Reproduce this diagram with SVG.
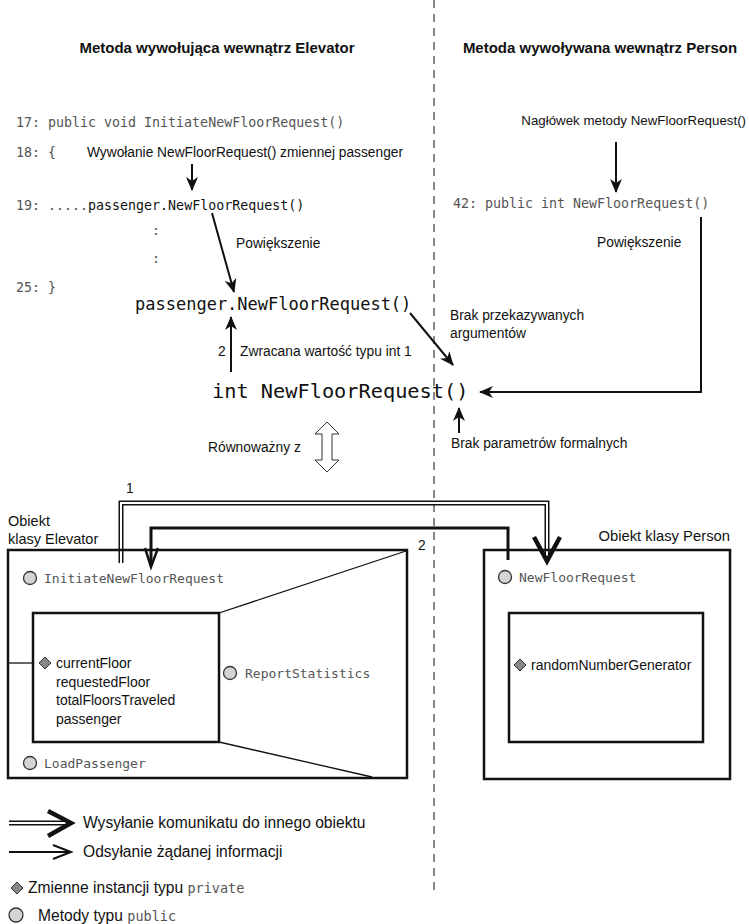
<svg xmlns="http://www.w3.org/2000/svg" width="749" height="924" viewBox="0 0 749 924">
<style>
.s{font-family:"Liberation Sans",Arial,sans-serif;font-size:13.8px;fill:#111}
.h{font-family:"Liberation Sans",Arial,sans-serif;font-size:15px;font-weight:bold;fill:#111}
.m{font-family:"DejaVu Sans Mono","Liberation Mono",monospace;font-size:13px;fill:#555}
.mb{fill:#111}
.ln{stroke:#111;stroke-width:2;fill:none}
.box{stroke:#111;stroke-width:2.5;fill:none}
.thin{stroke:#111;stroke-width:1.3;fill:none}
.circ{fill:#d4d4d4;stroke:#333;stroke-width:1.3}
.dia{fill:#888;stroke:#333;stroke-width:1}
</style>
<defs>
<marker id="ah" markerUnits="userSpaceOnUse" markerWidth="14" markerHeight="14" refX="13" refY="7" orient="auto">
<path d="M0,1 L14,7 L0,13 L4,7 z" fill="#111"/>
</marker>
</defs>
<rect width="749" height="924" fill="#fff"/>
<line x1="434" y1="0" x2="434" y2="890" stroke="#888" stroke-width="2" stroke-dasharray="8,6"/>
<g id="headings">
<text class="h" x="217" y="53" text-anchor="middle">Metoda wywołująca wewnątrz Elevator</text>
<text class="h" x="600" y="53" text-anchor="middle">Metoda wywoływana wewnątrz Person</text>
</g>
<g id="code-elevator">
<text class="m" x="16" y="127" style="font-size:13.3px">17: public void InitiateNewFloorRequest()</text>
<text class="m" x="16" y="157" style="font-size:13.3px">18: {</text>
<text class="m" x="16" y="210" style="font-size:13.3px">19: .....<tspan class="mb">passenger.NewFloorRequest()</tspan></text>
<text class="m" x="152" y="235" style="font-size:13.3px">:</text>
<text class="m" x="152" y="263" style="font-size:13.3px">:</text>
<text class="m" x="16" y="292" style="font-size:13.3px">25: }</text>
<text class="s" x="87" y="157" style="font-size:14px" textLength="316" lengthAdjust="spacingAndGlyphs">Wywołanie NewFloorRequest() zmiennej passenger</text>
<text class="s" x="236" y="248">Powiększenie</text>
</g>
<g id="code-person">
<text class="s" x="746" y="125" text-anchor="end" style="font-size:13.3px">Nagłówek metody NewFloorRequest()</text>
<text class="m" x="453" y="208" style="font-size:13.3px">42: public int NewFloorRequest()</text>
<text class="s" x="597" y="247">Powiększenie</text>
</g>
<g id="call">
<text class="m mb" x="135" y="310" style="font-size:17px">passenger.NewFloorRequest()</text>
<text class="m mb" x="212" y="398" style="font-size:20.3px">int NewFloorRequest()</text>
<text class="s" x="218" y="356">2</text>
<text class="s" x="240" y="356">Zwracana wartość typu int 1</text>
<text class="s" x="450" y="320">Brak przekazywanych</text>
<text class="s" x="450" y="338">argumentów</text>
<text class="s" x="451" y="448">Brak parametrów formalnych</text>
<text class="s" x="208" y="452">Równoważny z</text>
<polygon points="327,422 339,434 332,434 332,460 339,460 327,472 315,460 322,460 322,434 315,434" fill="#fff" stroke="#333" stroke-width="1"/>
</g>
<g id="connectors">
<line class="ln" x1="192" y1="164" x2="192" y2="190" marker-end="url(#ah)"/>
<line class="ln" x1="212" y1="213" x2="234" y2="292" marker-end="url(#ah)"/>
<line class="ln" x1="616" y1="142" x2="616" y2="192" marker-end="url(#ah)"/>
<polyline class="ln" points="701,217 701,392 480,392" marker-end="url(#ah)"/>
<line class="ln" x1="231" y1="372" x2="231" y2="317" marker-end="url(#ah)"/>
<line class="ln" x1="410" y1="313" x2="453" y2="365" marker-end="url(#ah)"/>
<line class="ln" x1="459" y1="433" x2="459" y2="408" marker-end="url(#ah)"/>
<polyline points="121,563 121,503 547,503 547,558" fill="none" stroke="#111" stroke-width="5"/>
<polyline points="121,565 121,503 547,503 547,556" fill="none" stroke="#fff" stroke-width="2"/>
<polyline points="534,537 547,561 560,537" fill="none" stroke="#111" stroke-width="4.5" stroke-linejoin="miter"/>
<text class="s" x="126" y="493">1</text>
<polyline points="508,560 508,528 151,528 151,566" fill="none" stroke="#111" stroke-width="3"/>
<polyline points="145,548 151,567 158,548" fill="none" stroke="#111" stroke-width="2.5"/>
<text class="s" x="418" y="550">2</text>
</g>
<g id="elevator">
<text class="s" x="8" y="526" style="font-size:14.5px">Obiekt</text>
<text class="s" x="8" y="544" style="font-size:14.5px">klasy Elevator</text>
<rect class="box" x="8" y="550" width="399" height="228"/>
<rect class="box" x="33" y="613" width="186" height="129"/>
<line class="thin" x1="219" y1="613" x2="406" y2="551"/>
<line class="thin" x1="219" y1="742" x2="372" y2="777"/>
<line class="thin" x1="8" y1="663" x2="33" y2="663"/>
<circle class="circ" cx="30" cy="578" r="6.5"/>
<text class="m" x="44" y="583">InitiateNewFloorRequest</text>
<polygon class="dia" points="45,657 51,663 45,669 39,663"/>
<text class="s" x="56" y="668" style="font-size:14px">currentFloor</text>
<text class="s" x="56" y="687" style="font-size:14px">requestedFloor</text>
<text class="s" x="56" y="705" style="font-size:14px">totalFloorsTraveled</text>
<text class="s" x="56" y="724" style="font-size:14px">passenger</text>
<circle class="circ" cx="230" cy="673" r="6.5"/>
<text class="m" x="245" y="678">ReportStatistics</text>
<circle class="circ" cx="30" cy="763" r="6.5"/>
<text class="m" x="44" y="768">LoadPassenger</text>
</g>
<g id="person">
<text class="s" x="730" y="541" text-anchor="end" style="font-size:14.8px">Obiekt klasy Person</text>
<rect class="box" x="484" y="550" width="246" height="229"/>
<rect class="box" x="509" y="613" width="194" height="129"/>
<circle class="circ" cx="505" cy="577" r="6.5"/>
<text class="m" x="519" y="582">NewFloorRequest</text>
<polygon class="dia" points="520,659 526,665 520,671 514,665"/>
<text class="s" x="531" y="670" style="font-size:14px">randomNumberGenerator</text>
</g>
<g id="legend">
<line x1="9" y1="823" x2="68" y2="823" stroke="#111" stroke-width="5"/>
<line x1="9" y1="823" x2="68" y2="823" stroke="#fff" stroke-width="2"/>
<polyline points="48,811 71,823 48,836" fill="none" stroke="#111" stroke-width="4.5"/>
<text class="s" x="83" y="828" style="font-size:15.6px">Wysyłanie komunikatu do innego obiektu</text>
<line x1="9" y1="852" x2="70" y2="852" stroke="#111" stroke-width="2"/>
<polyline points="53,845 71,852 53,859" fill="none" stroke="#111" stroke-width="2"/>
<text class="s" x="83" y="857" style="font-size:15.6px">Odsyłanie żądanej informacji</text>
<polygon class="dia" points="17,882 23,888 17,894 11,888"/>
<text class="s" x="28" y="893" style="font-size:15.6px">Zmienne instancji typu <tspan class="m" style="font-size:13.5px">private</tspan></text>
<circle class="circ" cx="16" cy="915" r="7"/>
<text class="s" x="38" y="921" style="font-size:15.6px">Metody typu <tspan class="m" style="font-size:13.5px">public</tspan></text>
</g>
</svg>
